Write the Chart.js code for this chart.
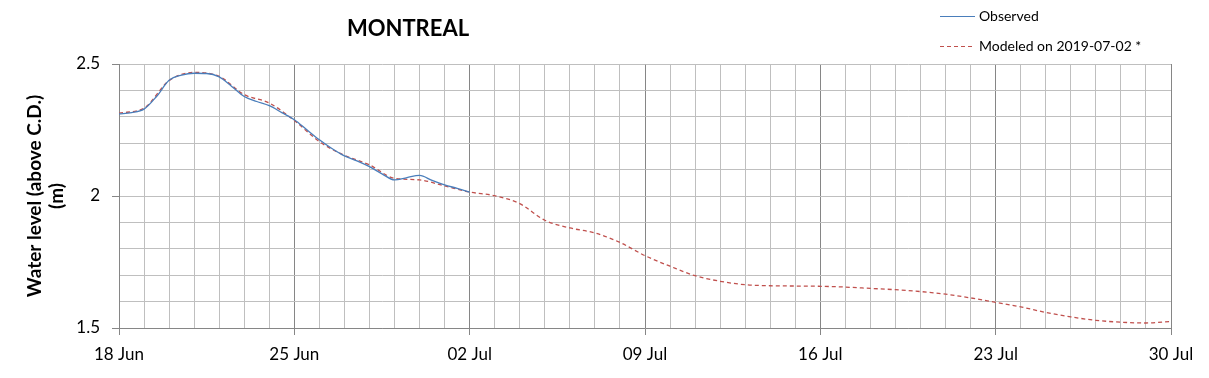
<!DOCTYPE html>
<html>
<head>
<meta charset="utf-8">
<title>MONTREAL</title>
<script src="https://cdn.jsdelivr.net/npm/chart.js@4/dist/chart.umd.min.js"></script>
<style>
  html, body { margin: 0; padding: 0; background: #fff; }
  canvas { display: block; }
</style>
</head>
<body>
<canvas id="chart" width="1209" height="378"></canvas>
<script>
// days since 18 Jun
const obsDays = [0, 0.5, 1, 1.5, 2, 2.5, 3, 3.5, 4, 4.5, 5, 5.5, 6, 6.5, 7, 7.5, 8, 8.5, 9, 9.5, 10, 10.5, 11, 11.5, 12, 12.5, 13, 13.5, 14];
const obsLevels = [2.311, 2.316, 2.329, 2.377, 2.438, 2.458, 2.465, 2.464, 2.451, 2.415, 2.377, 2.358, 2.342, 2.316, 2.289, 2.251, 2.213, 2.180, 2.152, 2.133, 2.111, 2.084, 2.061, 2.070, 2.078, 2.059, 2.042, 2.029, 2.015];

const modelDays = [0, 1, 2, 3, 4, 5, 6, 7, 8, 9, 10, 11, 12, 13, 14, 15, 16, 17, 18, 19, 20, 21,
  22, 23, 24, 25, 26, 27, 28, 29, 30, 31, 32, 33, 34, 35, 36, 37, 38, 39, 40, 41, 42];
const modelLevels = [2.314, 2.333, 2.437, 2.468, 2.453, 2.384, 2.352, 2.286, 2.206, 2.154, 2.118, 2.067, 2.061, 2.038, 2.015,
  2.001, 1.971, 1.908, 1.879, 1.860, 1.824, 1.774, 1.734, 1.698, 1.677, 1.664, 1.660, 1.659, 1.658, 1.655, 1.650,
  1.645, 1.638, 1.628, 1.614, 1.597, 1.580, 1.559, 1.542, 1.529, 1.522, 1.519, 1.525];

const dateLabels = ["18 Jun", "25 Jun", "02 Jul", "09 Jul", "16 Jul", "23 Jul", "30 Jul"];
const levelLabels = [1.5, 2, 2.5];
const seriesNames = ["Observed", "Modeled on 2019-07-02 *"];
const chartTitle = "MONTREAL";

const FONT = "Lato, 'Open Sans', sans-serif";

function isLabeledLevel(v) {
  return levelLabels.some((l) => Math.abs(l - v) < 1e-6);
}

// title + legend drawn at fixed spots like the original sheet
const headerPlugin = {
  id: "header",
  afterDraw(chart) {
    const ctx = chart.ctx;
    ctx.save();
    ctx.fillStyle = "#000";
    ctx.font = "bold 22px " + FONT;
    ctx.textAlign = "center";
    ctx.textBaseline = "middle";
    ctx.fillText(chartTitle, 408, 29);

    const rows = [16, 46];
    chart.data.datasets.forEach((ds, i) => {
      const y = rows[i];
      ctx.beginPath();
      ctx.strokeStyle = ds.borderColor;
      ctx.lineWidth = 1;
      ctx.setLineDash(ds.borderDash || []);
      ctx.moveTo(940, y + 0.5);
      ctx.lineTo(975, y + 0.5);
      ctx.stroke();
      ctx.setLineDash([]);
      ctx.fillStyle = "#000";
      ctx.font = "14px " + FONT;
      ctx.textAlign = "left";
      ctx.fillText(ds.label, 979, y);
    });
    ctx.restore();
  }
};

new Chart(document.getElementById("chart"), {
  type: "line",
  data: {
    datasets: [
      {
        label: seriesNames[0],
        data: obsDays.map((d, i) => ({ x: d, y: obsLevels[i] })),
        borderColor: "#4a7ebb",
        borderWidth: 1.3,
        pointRadius: 0,
        cubicInterpolationMode: "monotone",
        fill: false,
      },
      {
        label: seriesNames[1],
        data: modelDays.map((d, i) => ({ x: d, y: modelLevels[i] })),
        borderColor: "#c0504d",
        borderWidth: 1.3,
        borderDash: [4, 3],
        pointRadius: 0,
        cubicInterpolationMode: "monotone",
        fill: false,
      },
    ],
  },
  options: {
    responsive: false,
    animation: false,
    layout: { padding: { top: 64, right: 38, left: 0, bottom: 0 } },
    plugins: {
      legend: { display: false },
      tooltip: { enabled: false },
      title: { display: false },
    },
    scales: {
      x: {
        type: "linear",
        min: 0,
        max: 42,
        afterFit(scale) { scale.height = 50; },
        grid: {
          color: (c) => (c.tick && c.tick.value % 7 === 0 ? "#868686" : "#bfbfbf"),
          tickColor: (c) => (c.tick && c.tick.value % 7 === 0 ? "#868686" : "rgba(0,0,0,0)"),
          tickLength: 7,
          lineWidth: 1,
        },
        border: { color: "#868686" },
        ticks: {
          stepSize: 1,
          autoSkip: false,
          maxRotation: 0,
          padding: 9,
          color: "#000",
          font: { family: FONT, size: 17 },
          callback: (v) => (v % 7 === 0 ? dateLabels[v / 7] : ""),
        },
      },
      y: {
        min: 1.5,
        max: 2.5,
        afterFit(scale) { scale.width = 119; },
        grid: {
          color: "#bfbfbf",
          tickColor: (c) => (c.tick && isLabeledLevel(c.tick.value) ? "#868686" : "rgba(0,0,0,0)"),
          tickLength: 7,
        },
        border: { color: "#868686" },
        ticks: {
          stepSize: 0.1,
          autoSkip: false,
          padding: 12,
          color: "#000",
          font: { family: FONT, size: 17 },
          callback: (v) => (isLabeledLevel(v) ? String(Math.round(v * 10) / 10) : ""),
        },
        title: {
          display: true,
          text: ["Water level (above C.D.)", "(m)"],
          color: "#000",
          font: { family: FONT, size: 19, weight: "bold", lineHeight: 1.2 },
          padding: { top: 23, bottom: 0 },
        },
      },
    },
  },
  plugins: [headerPlugin],
});
</script>
</body>
</html>
